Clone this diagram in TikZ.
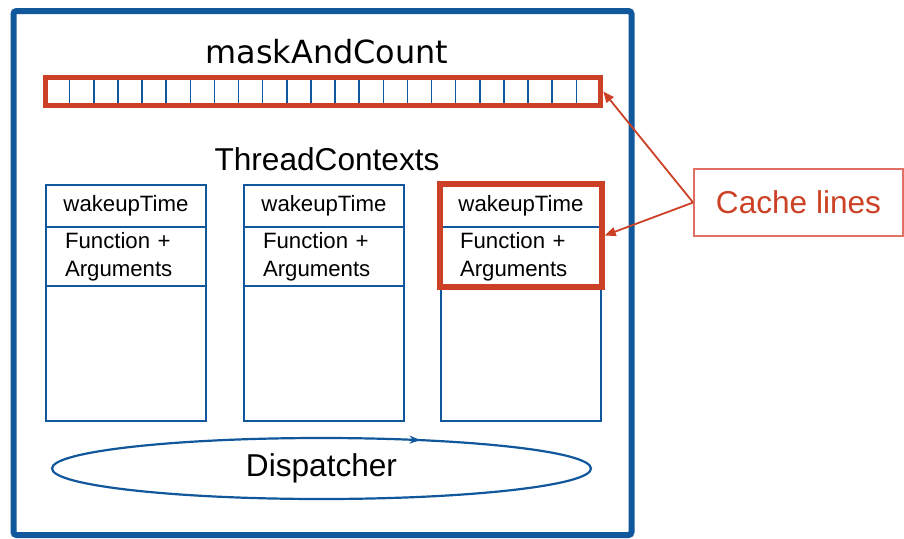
\documentclass[tikz,border=0pt]{standalone}
\usepackage{fontspec}
\setmainfont{Liberation Sans}
\newfontfamily\dejavu{DejaVu Sans}
\usetikzlibrary{shapes.geometric,arrows.meta,positioning,fit,backgrounds,calc,decorations.markings}
\definecolor{frameblue}{RGB}{17,87,155}
\definecolor{cachered}{RGB}{204,65,37}
\definecolor{softred}{RGB}{224,112,100}

\begin{document}
\begin{tikzpicture}[x=1pt,y=-1pt,
  big/.style={font=\fontsize{31.6}{38}\selectfont},
  slot/.style={draw=frameblue,line width=2pt,minimum width=160pt,inner sep=0pt,outer sep=0pt},
  wake/.style={slot,minimum height=42pt,font=\fontsize{22.2}{28}\selectfont},
  func/.style={slot,minimum height=59pt,text width=122pt,inner xsep=19pt,align=left,font=\fontsize{22.2}{28}\selectfont},
  rest/.style={slot,minimum height=135pt},
  hot/.style={draw=cachered,line width=5.5pt},
  a/.style={-{Triangle[length=11pt,width=9pt]},line width=1.8pt,color=cachered}]
  \useasboundingbox (0,0) rectangle (904,538);
  \draw[frameblue,line width=6pt,rounded corners=3pt] (13.5,11) rectangle (631.5,535);
  % shared word
  \node[font=\dejavu\fontsize{31.9}{38}\selectfont] (masktitle) at (327,52) {maskAndCount};
  \node[hot,minimum width=555pt,minimum height=28pt,inner sep=0pt] (mask) at (323,91.5) {};
  \begin{scope}[on background layer]
    \foreach \k in {1,...,22}
      \draw[frameblue,line width=1.5pt] ($(mask.center)+({(\k-11.5)*555/23},-14)$) -- ++(0,28);
  \end{scope}
  % per-thread slots
  \node[big] (ctxtitle) at (327,159) {ThreadContexts};
  \foreach \i/\x in {1/126,2/324,3/521} {
    \node[wake] (wake\i) at (\x,206) {wakeupTime};
    \node[func,below=0pt of wake\i] (func\i) {Function +\\Arguments};
    \node[rest,below=0pt of func\i] (rest\i) {};
  }
  \node[hot,fit=(wake3)(func3),inner sep=1pt] (hl) {};
  \node[ellipse,draw=frameblue,line width=2.2pt,minimum width=539pt,minimum height=61pt,inner sep=0pt,big,
    postaction={decorate},
    decoration={markings,mark=at position 0.16 with {\arrowreversed[frameblue]{Stealth[length=11pt,width=8pt]}}}]
    (disp) at (321.5,468.5) {Dispatcher};
  \node[draw=softred,line width=1.8pt,minimum width=209pt,minimum height=67pt,inner sep=0pt,big,text=cachered]
    (cache) at (798.5,202.5) {Cache lines};
  \draw[a] (cache.west) -- (mask.east);
  \draw[a] (cache.west) -- (hl.east);
\end{tikzpicture}
\end{document}
